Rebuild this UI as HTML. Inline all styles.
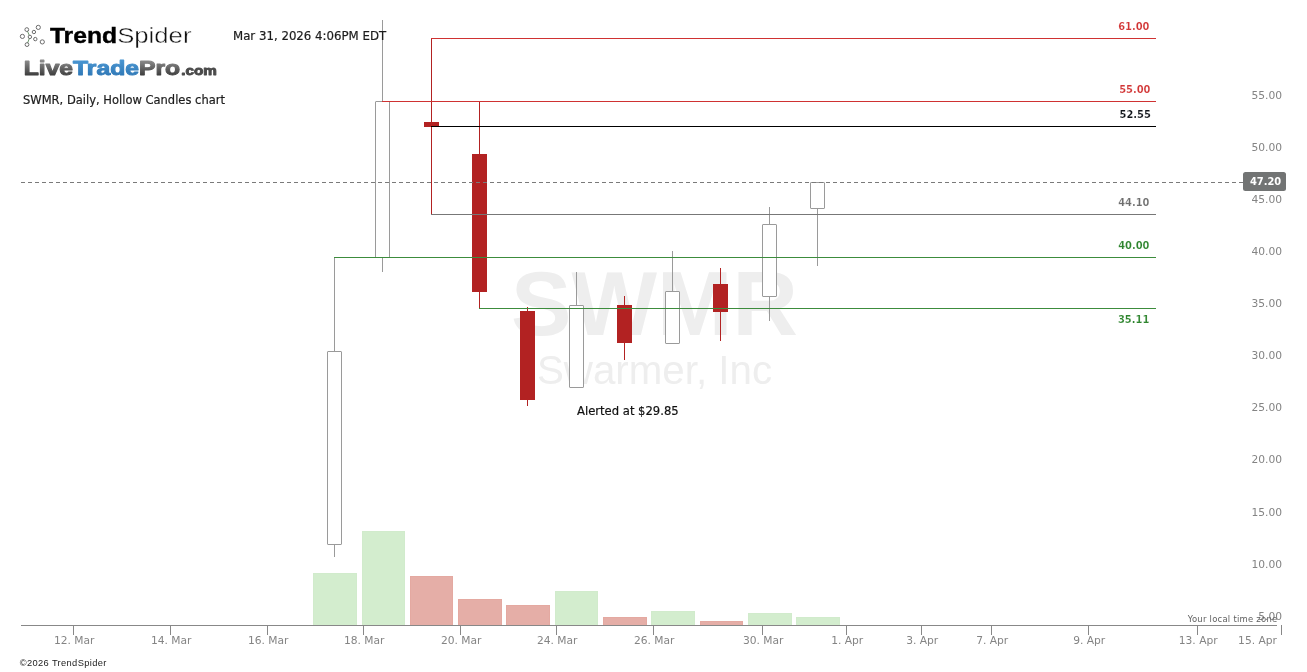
<!DOCTYPE html>
<html lang="en"><head><meta charset="utf-8"><title>SWMR, Daily, Hollow Candles chart</title>
<style>
html,body{margin:0;padding:0;background:#fff;}
body{width:1307px;height:672px;overflow:hidden;position:relative;font-family:"DejaVu Sans","Liberation Sans",sans-serif;}
svg{position:absolute;left:0;top:0;display:block;}
.ax{font-family:"DejaVu Sans","Liberation Sans",sans-serif;font-size:10.7px;fill:#848484;}
.lv{font-family:"DejaVu Sans Condensed","DejaVu Sans","Liberation Sans",sans-serif;font-weight:bold;font-size:11px;}
.hd{font-family:"DejaVu Sans","Liberation Sans",sans-serif;font-size:11.5px;fill:#1c1c1c;stroke:#1c1c1c;stroke-width:0.2px;}
.wm{font-family:"Liberation Sans",sans-serif;fill:#eeeeee;}
</style></head><body>
<svg width="1307" height="672" viewBox="0 0 1307 672">
<rect x="0" y="0" width="1307" height="672" fill="#ffffff"/>
<text class="wm" x="654.5" y="335" text-anchor="middle" font-size="90.6" font-weight="bold">SWMR</text>
<text class="wm" x="654.5" y="383.5" text-anchor="middle" font-size="40.3">Swarmer, Inc</text>
<g shape-rendering="crispEdges">
<rect x="313.5" y="573.5" width="43" height="52" fill="#d3edce" stroke="#d1ebcc" stroke-width="1"/>
<rect x="362.5" y="531.5" width="42" height="94" fill="#d3edce" stroke="#d1ebcc" stroke-width="1"/>
<rect x="410.5" y="576.5" width="42" height="49" fill="#e5aea7" stroke="#e4a9a1" stroke-width="1"/>
<rect x="458.5" y="599.5" width="43" height="26" fill="#e5aea7" stroke="#e4a9a1" stroke-width="1"/>
<rect x="506.5" y="605.5" width="43" height="20" fill="#e5aea7" stroke="#e4a9a1" stroke-width="1"/>
<rect x="555.5" y="591.5" width="42" height="34" fill="#d3edce" stroke="#d1ebcc" stroke-width="1"/>
<rect x="603.5" y="617.5" width="43" height="8" fill="#e5aea7" stroke="#e4a9a1" stroke-width="1"/>
<rect x="651.5" y="611.5" width="43" height="14" fill="#d3edce" stroke="#d1ebcc" stroke-width="1"/>
<rect x="700.5" y="621.5" width="42" height="4" fill="#e5aea7" stroke="#e4a9a1" stroke-width="1"/>
<rect x="748.5" y="613.5" width="43" height="12" fill="#d3edce" stroke="#d1ebcc" stroke-width="1"/>
<rect x="796.5" y="617.5" width="43" height="8" fill="#d3edce" stroke="#d1ebcc" stroke-width="1"/>
</g>
<g shape-rendering="crispEdges">
<rect x="334" y="257" width="1" height="300" fill="#9a9a9a"/>
<rect x="327.5" y="351.5" width="14" height="193" rx="0.5" ry="0.5" fill="#ffffff" stroke="#9a9a9a" stroke-width="1" shape-rendering="geometricPrecision"/>
<rect x="382" y="20" width="1" height="252" fill="#9a9a9a"/>
<rect x="375.5" y="101.5" width="14" height="156" rx="0.5" ry="0.5" fill="#ffffff" stroke="#9a9a9a" stroke-width="1" shape-rendering="geometricPrecision"/>
<rect x="431" y="38" width="1" height="177" fill="#b22222"/>
<rect x="424" y="122" width="15" height="5" fill="#b22222"/>
<rect x="479" y="101" width="1" height="207" fill="#b22222"/>
<rect x="472" y="154" width="15" height="138" fill="#b22222"/>
<rect x="527" y="307" width="1" height="99" fill="#b22222"/>
<rect x="520" y="311" width="15" height="89" fill="#b22222"/>
<rect x="576" y="272" width="1" height="116" fill="#9a9a9a"/>
<rect x="569.5" y="305.5" width="14" height="82" rx="0.5" ry="0.5" fill="#ffffff" stroke="#9a9a9a" stroke-width="1" shape-rendering="geometricPrecision"/>
<rect x="624" y="296" width="1" height="64" fill="#b22222"/>
<rect x="617" y="305" width="15" height="38" fill="#b22222"/>
<rect x="672" y="251" width="1" height="93" fill="#9a9a9a"/>
<rect x="665.5" y="291.5" width="14" height="52" rx="0.5" ry="0.5" fill="#ffffff" stroke="#9a9a9a" stroke-width="1" shape-rendering="geometricPrecision"/>
<rect x="720" y="268" width="1" height="73" fill="#b22222"/>
<rect x="713" y="284" width="15" height="28" fill="#b22222"/>
<rect x="769" y="207" width="1" height="114" fill="#9a9a9a"/>
<rect x="762.5" y="224.5" width="14" height="72" rx="0.5" ry="0.5" fill="#ffffff" stroke="#9a9a9a" stroke-width="1" shape-rendering="geometricPrecision"/>
<rect x="817" y="182" width="1" height="84" fill="#9a9a9a"/>
<rect x="810.5" y="182.5" width="14" height="26" rx="0.5" ry="0.5" fill="#ffffff" stroke="#9a9a9a" stroke-width="1" shape-rendering="geometricPrecision"/>
</g>
<line x1="21" y1="182.5" x2="1243" y2="182.5" stroke="#7a7a7a" stroke-width="1" stroke-dasharray="4 3" shape-rendering="crispEdges"/>
<g shape-rendering="crispEdges">
<rect x="431" y="38" width="725" height="1" fill="#cf3232"/>
<rect x="382" y="101" width="774" height="1" fill="#cf3232"/>
<rect x="431" y="126" width="725" height="1" fill="#000000"/>
<rect x="431" y="214" width="725" height="1" fill="#777777"/>
<rect x="334" y="257" width="822" height="1" fill="#3c8c3c"/>
<rect x="479" y="308" width="677" height="1" fill="#3c8c3c"/>
</g>
<text class="lv" x="1149.5" y="30.3" text-anchor="end" fill="#d23535" stroke="#ffffff" stroke-width="0.16">61.00</text>
<text class="lv" x="1150.5" y="93.4" text-anchor="end" fill="#d23535" stroke="#ffffff" stroke-width="0.16">55.00</text>
<text class="lv" x="1150.9" y="118.4" text-anchor="end" fill="#10141a" stroke="#ffffff" stroke-width="0.16">52.55</text>
<text class="lv" x="1149.5" y="206.3" text-anchor="end" fill="#6e6e6e" stroke="#ffffff" stroke-width="0.16">44.10</text>
<text class="lv" x="1149.5" y="249.3" text-anchor="end" fill="#2e852e" stroke="#ffffff" stroke-width="0.16">40.00</text>
<text class="lv" x="1149.3" y="323.3" text-anchor="end" fill="#2e852e" stroke="#ffffff" stroke-width="0.16">35.11</text>
<text x="577" y="415" font-size="11.6" fill="#111" stroke="#111" stroke-width="0.2" font-family="DejaVu Sans, Liberation Sans, sans-serif">Alerted at $29.85</text>
<g shape-rendering="crispEdges">
<rect x="21" y="625" width="1256" height="1" fill="#888888"/>
<rect x="73" y="625" width="1" height="10" fill="#888888"/>
<rect x="170" y="625" width="1" height="10" fill="#888888"/>
<rect x="267" y="625" width="1" height="10" fill="#888888"/>
<rect x="363" y="625" width="1" height="10" fill="#888888"/>
<rect x="460" y="625" width="1" height="10" fill="#888888"/>
<rect x="556" y="625" width="1" height="10" fill="#888888"/>
<rect x="653" y="625" width="1" height="10" fill="#888888"/>
<rect x="762" y="625" width="1" height="10" fill="#888888"/>
<rect x="846" y="625" width="1" height="10" fill="#888888"/>
<rect x="921" y="625" width="1" height="10" fill="#888888"/>
<rect x="991" y="625" width="1" height="10" fill="#888888"/>
<rect x="1088" y="625" width="1" height="10" fill="#888888"/>
<rect x="1197" y="625" width="1" height="10" fill="#888888"/>
<rect x="1281" y="625" width="1" height="10" fill="#888888"/>
</g>
<text class="ax" x="74.2" y="644" text-anchor="middle">12. Mar</text>
<text class="ax" x="171.2" y="644" text-anchor="middle">14. Mar</text>
<text class="ax" x="268.2" y="644" text-anchor="middle">16. Mar</text>
<text class="ax" x="364.2" y="644" text-anchor="middle">18. Mar</text>
<text class="ax" x="461.2" y="644" text-anchor="middle">20. Mar</text>
<text class="ax" x="557.2" y="644" text-anchor="middle">24. Mar</text>
<text class="ax" x="654.2" y="644" text-anchor="middle">26. Mar</text>
<text class="ax" x="763.2" y="644" text-anchor="middle">30. Mar</text>
<text class="ax" x="847.2" y="644" text-anchor="middle">1. Apr</text>
<text class="ax" x="922.2" y="644" text-anchor="middle">3. Apr</text>
<text class="ax" x="992.2" y="644" text-anchor="middle">7. Apr</text>
<text class="ax" x="1089.2" y="644" text-anchor="middle">9. Apr</text>
<text class="ax" x="1198.2" y="644" text-anchor="middle">13. Apr</text>
<text class="ax" x="1277" y="644" text-anchor="end">15. Apr</text>
<text class="ax" x="1282" y="98.60" text-anchor="end">55.00</text>
<text class="ax" x="1282" y="150.60" text-anchor="end">50.00</text>
<text class="ax" x="1282" y="202.90" text-anchor="end">45.00</text>
<text class="ax" x="1282" y="254.90" text-anchor="end">40.00</text>
<text class="ax" x="1282" y="306.90" text-anchor="end">35.00</text>
<text class="ax" x="1282" y="358.90" text-anchor="end">30.00</text>
<text class="ax" x="1282" y="410.90" text-anchor="end">25.00</text>
<text class="ax" x="1282" y="462.90" text-anchor="end">20.00</text>
<text class="ax" x="1282" y="515.90" text-anchor="end">15.00</text>
<text class="ax" x="1282" y="567.90" text-anchor="end">10.00</text>
<text class="ax" x="1282" y="619.90" text-anchor="end">5.00</text>
<text x="1277.5" y="621.7" text-anchor="end" font-size="9.4" letter-spacing="0.25" fill="#5e5e5e" font-family="DejaVu Sans Condensed, DejaVu Sans, Liberation Sans, sans-serif">Your local time zone</text>
<rect x="1243" y="172" width="43" height="19" rx="2.5" ry="2.5" fill="#727474"/>
<text class="lv" x="1265.6" y="185" text-anchor="middle" fill="#ffffff">47.20</text>
<text class="hd" x="233" y="39.5" style="font-size:11.78px">Mar 31, 2026 4:06PM EDT</text>
<text class="hd" x="23" y="103.5">SWMR, Daily, Hollow Candles chart</text>
<text x="19.8" y="665.8" font-size="9.3" letter-spacing="0.36" fill="#222" font-family="Liberation Sans, sans-serif">©2026 TrendSpider</text>
<g fill="#ffffff" stroke="#5e5e5e" stroke-width="0.9">
<path d="M26.8 29.6 L29.9 36.9 L27 44.6" fill="none" stroke="#5a8a5a"/>
<circle cx="26.8" cy="29.6" r="1.9"/>
<circle cx="38.3" cy="27.4" r="2.1"/>
<circle cx="33.9" cy="32.0" r="1.7"/>
<circle cx="22.4" cy="36.4" r="2.1"/>
<circle cx="29.9" cy="36.9" r="1.7"/>
<circle cx="35.3" cy="39.1" r="1.7"/>
<circle cx="42.3" cy="41.9" r="2.1"/>
<circle cx="27.0" cy="44.6" r="1.9"/>
</g>
<text x="49.9" y="42.6" font-family="Liberation Sans, sans-serif" font-size="22.3" font-weight="bold" fill="#000" stroke="#000" stroke-width="0.4" textLength="67.3" lengthAdjust="spacingAndGlyphs">Trend</text>
<text x="117.2" y="42.6" font-family="Liberation Sans, sans-serif" font-size="22.4" fill="#111" stroke="#ffffff" stroke-width="0.4" textLength="74.3" lengthAdjust="spacingAndGlyphs" style="paint-order:fill stroke">Spider</text>
<defs><linearGradient id="gg" gradientUnits="userSpaceOnUse" x1="0" y1="60" x2="0" y2="76"><stop offset="0" stop-color="#8e8e8e"/><stop offset="1" stop-color="#3a3a3a"/></linearGradient><linearGradient id="gb" gradientUnits="userSpaceOnUse" x1="0" y1="60" x2="0" y2="76"><stop offset="0" stop-color="#4a96d2"/><stop offset="1" stop-color="#2f78b6"/></linearGradient></defs>
<g font-family="Liberation Sans, sans-serif" font-weight="bold" stroke-linejoin="round">
<text x="23.7" y="75" font-size="19.4" textLength="156.5" lengthAdjust="spacingAndGlyphs"><tspan fill="url(#gg)" stroke="url(#gg)" stroke-width="0.95">Live</tspan><tspan fill="url(#gb)" stroke="url(#gb)" stroke-width="0.95">Trade</tspan><tspan fill="url(#gg)" stroke="url(#gg)" stroke-width="0.95">Pro</tspan></text>
<text x="181.3" y="75" font-size="12.6" textLength="35.5" lengthAdjust="spacingAndGlyphs" fill="#4a4a4a" stroke="#4a4a4a" stroke-width="0.9">.com</text>
</g>
</svg>
</body></html>
